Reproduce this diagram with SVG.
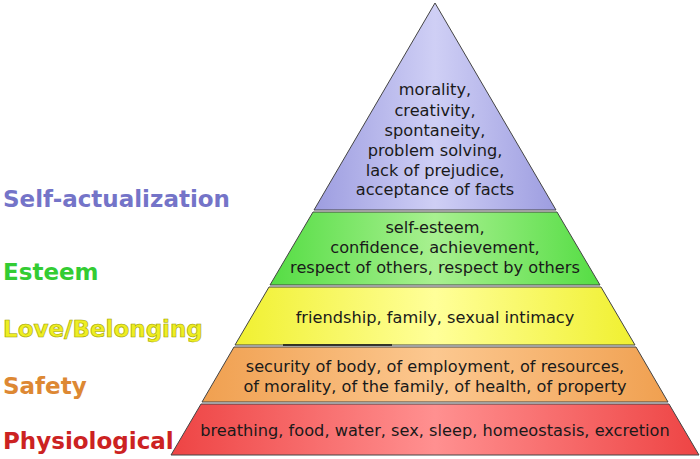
<svg xmlns="http://www.w3.org/2000/svg" width="700" height="459" viewBox="0 0 700 459">
<style>
.t{font-family:"DejaVu Sans",sans-serif;font-size:16.2px;fill:#1a1a1a;text-anchor:middle}
.l{font-family:"DejaVu Sans",sans-serif;font-size:23px;font-weight:bold}
.b{stroke:#444;stroke-width:1}
</style>
<defs>
<linearGradient id="gb" x1="0" x2="1"><stop offset="0" stop-color="#9d9de0"/><stop offset="0.5" stop-color="#cfcff5"/><stop offset="1" stop-color="#9d9de0"/></linearGradient>
<linearGradient id="gg" x1="0" x2="1"><stop offset="0" stop-color="#55dd44"/><stop offset="0.5" stop-color="#a8f090"/><stop offset="1" stop-color="#55dd44"/></linearGradient>
<linearGradient id="gy" x1="0" x2="1"><stop offset="0" stop-color="#f0f030"/><stop offset="0.5" stop-color="#ffff99"/><stop offset="1" stop-color="#f0f030"/></linearGradient>
<linearGradient id="go" x1="0" x2="1"><stop offset="0" stop-color="#f0a050"/><stop offset="0.5" stop-color="#fcc890"/><stop offset="1" stop-color="#f0a050"/></linearGradient>
<linearGradient id="gr" x1="0" x2="1"><stop offset="0" stop-color="#ee4444"/><stop offset="0.5" stop-color="#ff9090"/><stop offset="1" stop-color="#ee4444"/></linearGradient>
</defs>
<rect width="700" height="459" fill="#fff"/>
<g id="self-actualization">
<polygon class="b" points="435,3 556,210 314,210" fill="url(#gb)"/>
<text class="t"><tspan x="435" y="95">morality,</tspan><tspan x="435" y="116">creativity,</tspan><tspan x="435" y="136">spontaneity,</tspan><tspan x="435" y="156">problem solving,</tspan><tspan x="435" y="176">lack of prejudice,</tspan><tspan x="435" y="195">acceptance of facts</tspan></text>
<text class="l" x="3" y="207" fill="#7474c8">Self-actualization</text>
</g>
<g id="esteem">
<polygon class="b" points="313,212 557,212 600,285 270,285" fill="url(#gg)"/>
<text class="t"><tspan x="435" y="233">self-esteem,</tspan><tspan x="435" y="253">confidence, achievement,</tspan><tspan x="435" y="273">respect of others, respect by others</tspan></text>
<text class="l" x="3" y="280" fill="#33cc33">Esteem</text>
</g>
<g id="love">
<polygon class="b" points="269,287 601,287 635,345 235,345" fill="url(#gy)"/>
<text class="t" x="435" y="323">friendship, family, sexual intimacy</text>
<text class="l" x="3" y="337" fill="#eeee22" stroke="#a0a000" stroke-width="0.6">Love/Belonging</text>
</g>
<g id="safety">
<polygon class="b" points="234,347 636,347 668,402 202,402" fill="url(#go)"/>
<text class="t"><tspan x="435" y="372">security of body, of employment, of resources,</tspan><tspan x="435" y="392">of morality, of the family, of health, of property</tspan></text>
<text class="l" x="3" y="394" fill="#dd8833">Safety</text>
</g>
<g id="physiological">
<polygon class="b" points="201,404 669,404 699,455 171,455" fill="url(#gr)"/>
<text class="t" x="435" y="436">breathing, food, water, sex, sleep, homeostasis, excretion</text>
<text class="l" x="3" y="449" fill="#cc2222">Physiological</text>
</g>
<g id="connectors">
<line x1="283" y1="345" x2="392" y2="345" stroke="#111" stroke-width="1.5"/>
</g>
</svg>
